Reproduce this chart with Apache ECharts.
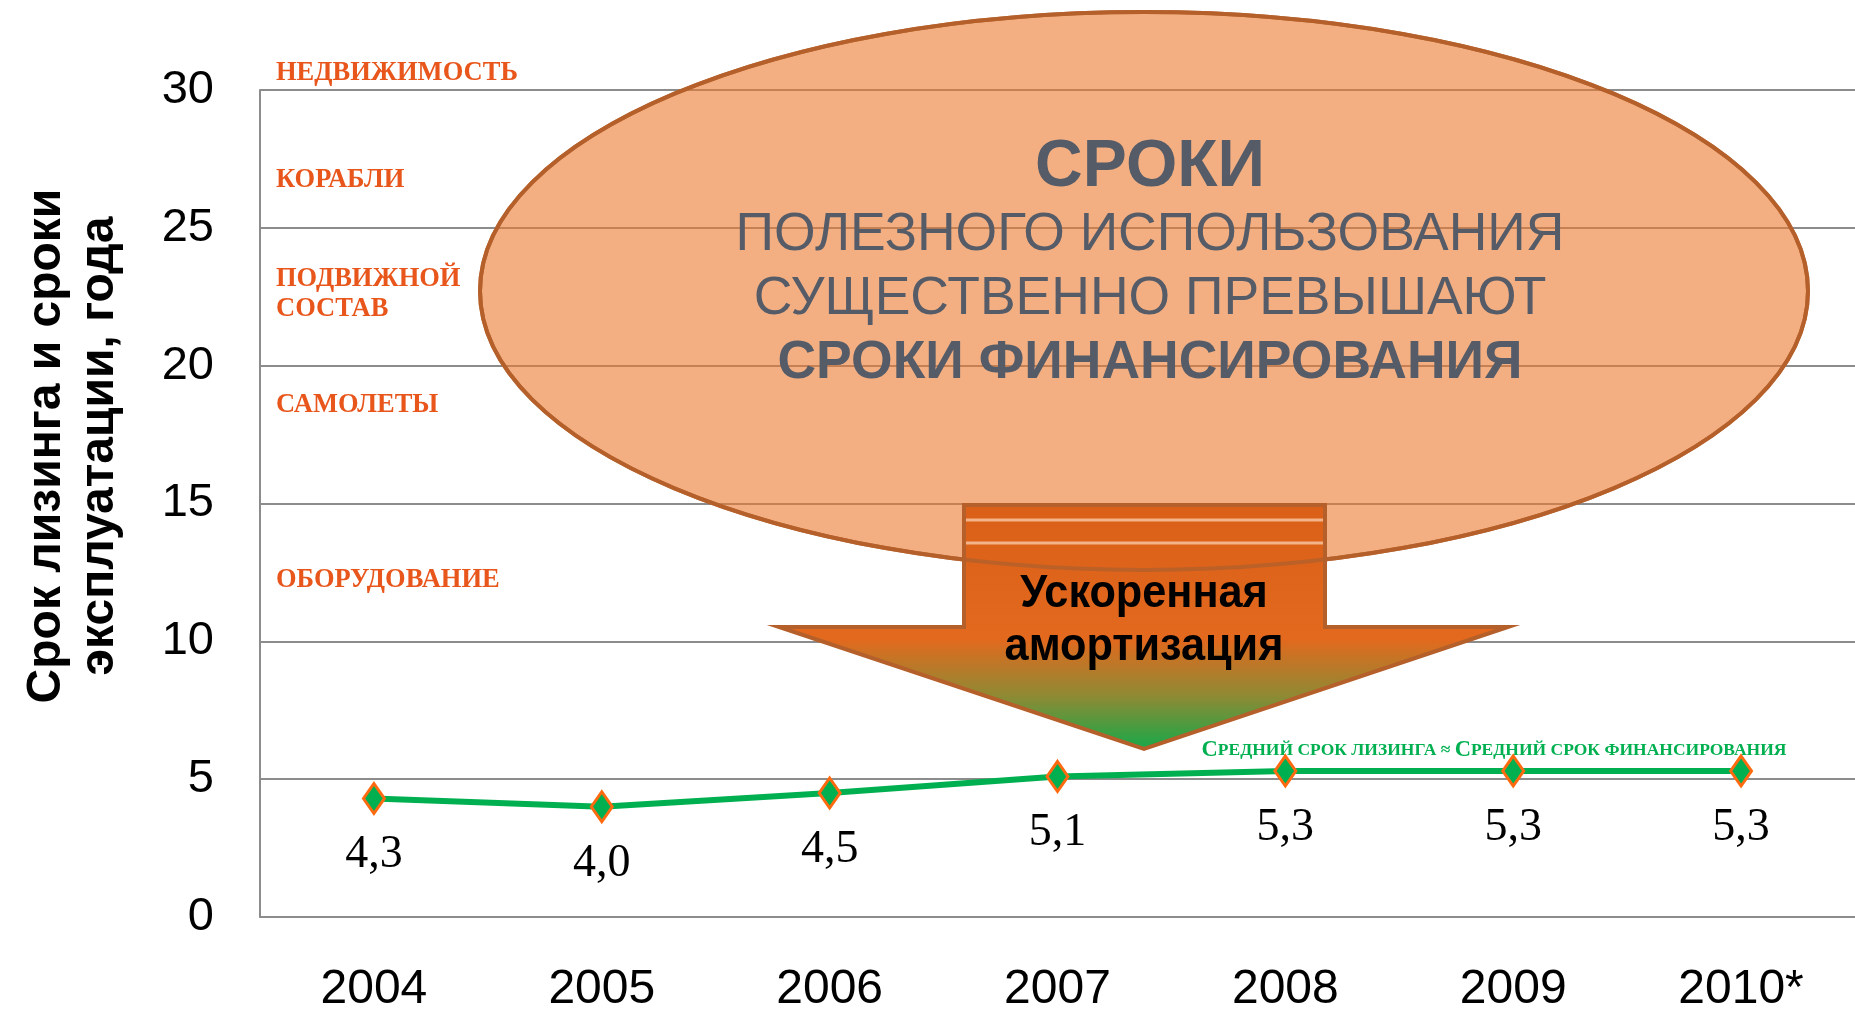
<!DOCTYPE html>
<html>
<head>
<meta charset="utf-8">
<script src="https://cdn.jsdelivr.net/npm/echarts@6/dist/echarts.min.js"></script>
<style>
  html, body { margin: 0; padding: 0; background: #fff; }
  #main { width: 1855px; height: 1014px; }
</style>
</head>
<body>
<div id="main"></div>
<script>
// годы
var years = ['2004', '2005', '2006', '2007', '2008', '2009', '2010*'];
// средний срок лизинга, лет
var leaseTerm = [4.3, 4.0, 4.5, 5.1, 5.3, 5.3, 5.3];
// шкала оси Y
var yTicks = [0, 5, 10, 15, 20, 25, 30];
// сроки эксплуатации имущества (подписи слева)
var assetLabels = ['НЕДВИЖИМОСТЬ', 'КОРАБЛИ', 'ПОДВИЖНОЙ\nСОСТАВ', 'САМОЛЕТЫ', 'ОБОРУДОВАНИЕ'];

var myChart = echarts.init(document.getElementById('main'));

var orange = '#E8561C';
var brown = '#B5602A';
var grey = '#555C68';

// подписи категорий имущества
var assetY = [73, 180, 294, 405, 580];
var assetText = assetLabels.map(function (t, i) {
  var twoLines = t.indexOf('\n') > -1;
  return {
    type: 'text', x: 276, y: assetY[i] - (twoLines ? 30 : 15), z: 5,
    style: {
      text: t, fill: orange, font: 'bold 26.5px "Liberation Serif"',
      verticalAlign: 'top', lineHeight: 30
    }
  };
});

var ellipseTexts = [
  { t: 'СРОКИ', y: 168, w: 'bold', s: 66 },
  { t: 'ПОЛЕЗНОГО ИСПОЛЬЗОВАНИЯ', y: 235, w: 'normal', s: 53.5 },
  { t: 'СУЩЕСТВЕННО ПРЕВЫШАЮТ', y: 299, w: 'normal', s: 53.5 },
  { t: 'СРОКИ ФИНАНСИРОВАНИЯ', y: 363, w: 'bold', s: 53.5 }
].map(function (o) {
  return {
    type: 'text', x: 1150, y: o.y, z: 20,
    style: {
      text: o.t, fill: grey, font: o.w + ' ' + o.s + 'px "Liberation Sans"',
      align: 'center', verticalAlign: 'middle'
    }
  };
});

var arrowPts = [[964, 505], [1325, 505], [1325, 627], [1508, 627], [1144, 749], [779, 627], [964, 627]];

myChart.setOption({
  animation: false,
  grid: { left: 260, right: 0, top: 90, bottom: 92 },
  xAxis: {
    type: 'category',
    data: years,
    axisTick: { show: false },
    axisLine: { lineStyle: { color: '#8c8c8c', width: 2 } },
    axisLabel: { color: '#000', fontSize: 48, fontFamily: 'Liberation Sans', margin: 49 }
  },
  yAxis: {
    type: 'value',
    min: yTicks[0],
    max: yTicks[yTicks.length - 1],
    interval: yTicks[1] - yTicks[0],
    axisLine: { show: true, lineStyle: { color: '#8c8c8c', width: 2 } },
    axisTick: { show: false },
    splitLine: { lineStyle: { color: '#8c8c8c', width: 2 } },
    axisLabel: { color: '#000', fontSize: 47, fontFamily: 'Liberation Sans', margin: 46 }
  },
  series: [{
    type: 'line',
    data: leaseTerm,
    z: 30,
    symbol: 'diamond',
    symbolSize: [21, 30],
    lineStyle: { color: '#00B050', width: 6 },
    itemStyle: { color: '#00B050', borderColor: '#FF6A10', borderWidth: 3 },
    label: {
      show: true, position: 'bottom', distance: 17,
      color: '#000', fontSize: 46, fontFamily: 'Liberation Serif',
      formatter: function (p) { return p.value.toFixed(1).replace('.', ','); }
    }
  }],
  graphic: [
    // подпись оси Y
    {
      type: 'text', x: 73, y: 446, rotation: Math.PI / 2, z: 5,
      style: {
        text: 'Срок лизинга и сроки\nэксплуатации, года',
        font: 'bold 48px "Liberation Sans"', fill: '#000',
        align: 'center', verticalAlign: 'middle', lineHeight: 53
      }
    },
    // эллипс (заливка)
    {
      type: 'ellipse', z: 10,
      shape: { cx: 1144, cy: 291, rx: 664, ry: 279 },
      style: { fill: 'rgba(235,122,47,0.6)', stroke: brown, lineWidth: 4 }
    },
    // стрелка "ускоренная амортизация"
    {
      type: 'polygon', z: 11,
      shape: { points: arrowPts },
      style: {
        fill: new echarts.graphic.LinearGradient(0, 0, 0, 1, [
          { offset: 0, color: '#DA5F18' },
          { offset: 0.55, color: '#E2691E' },
          { offset: 0.78, color: '#8E8A34' },
          { offset: 1, color: '#12AA4A' }
        ]),
        stroke: brown, lineWidth: 4
      }
    },
    { type: 'line', z: 12, shape: { x1: 966, y1: 520, x2: 1323, y2: 520 }, style: { stroke: '#F4B48A', lineWidth: 3 } },
    { type: 'line', z: 12, shape: { x1: 966, y1: 543, x2: 1323, y2: 543 }, style: { stroke: '#F4B48A', lineWidth: 3 } },
    // контур эллипса поверх стрелки
    {
      type: 'ellipse', z: 13,
      shape: { cx: 1144, cy: 291, rx: 664, ry: 279 },
      style: { fill: null, stroke: brown, lineWidth: 4, opacity: 0.85 }
    },
    {
      type: 'text', x: 1144, y: 621, z: 20, scaleX: 0.94,
      style: {
        text: 'Ускоренная\nамортизация', fill: '#000',
        font: 'bold 46px "Liberation Sans"',
        align: 'center', verticalAlign: 'middle', lineHeight: 53
      }
    },
    // зелёная подпись
    {
      type: 'text', x: 1494, y: 750, z: 20,
      style: {
        text: '{b|С}{s|РЕДНИЙ СРОК ЛИЗИНГА ≈ }{b|С}{s|РЕДНИЙ СРОК ФИНАНСИРОВАНИЯ}',
        align: 'center', verticalAlign: 'middle',
        rich: {
          b: { fontFamily: 'Liberation Serif', fontWeight: 'bold', fontSize: 22.5, fill: '#00B050' },
          s: { fontFamily: 'Liberation Serif', fontWeight: 'bold', fontSize: 17.5, fill: '#00B050' }
        }
      }
    }
  ].concat(assetText).concat(ellipseTexts)
});
</script>
</body>
</html>
